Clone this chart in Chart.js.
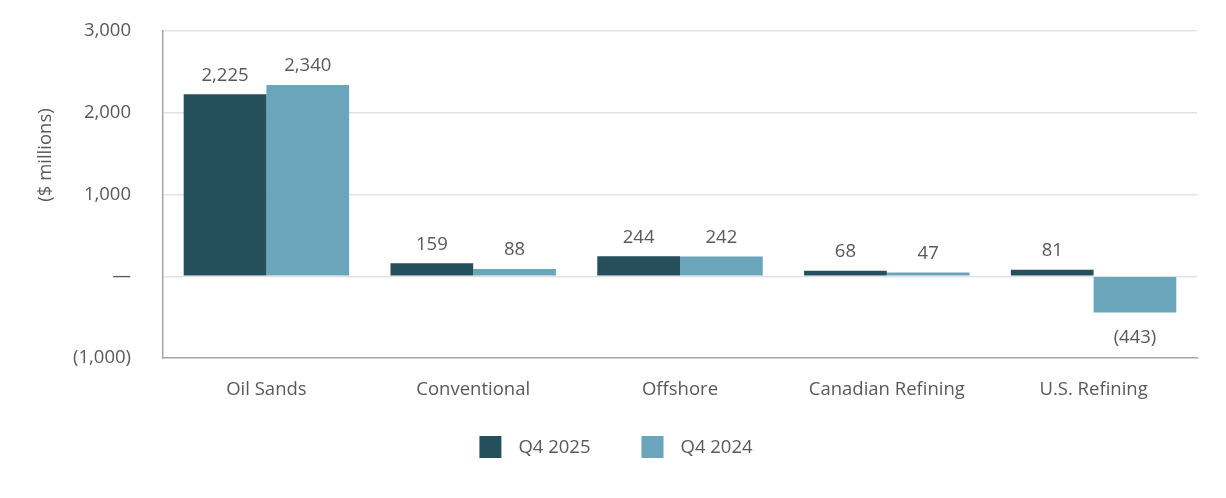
<!DOCTYPE html>
<html>
<head>
<meta charset="utf-8">
<script src="https://cdn.jsdelivr.net/npm/chart.js@4"></script>
<style>
  html, body { margin: 0; padding: 0; background: #fff; }
  #wrap { width: 1226px; height: 498px; }
</style>
</head>
<body>
<div id="wrap"><canvas id="segchart"></canvas></div>
<script>
const categories = ['Oil Sands', 'Conventional', 'Offshore', 'Canadian Refining', 'U.S. Refining'];
const q42025 = [2225, 159, 244, 68, 81];
const q42024 = [2340, 88, 242, 47, -443];
const seriesNames = ['Q4 2025', 'Q4 2024'];
const seriesColors = ['#264f5c', '#6ba5bb'];
const yTicks = [-1000, 0, 1000, 2000, 3000];

const textColor = '#595959';
const fontFamily = "'Open Sans', 'Noto Sans', sans-serif";
const fontSize = 18.5;

function fmt(v) {
    if (v === 0) return '\u2014';
    const s = Math.abs(v).toLocaleString('en-US');
    return v < 0 ? '(' + s + ')' : s;
}

// value labels over / under the bars
const valueLabels = {
    id: 'valueLabels',
    afterDatasetsDraw(chart) {
        const ctx = chart.ctx;
        ctx.save();
        ctx.fillStyle = textColor;
        ctx.font = fontSize + 'px ' + fontFamily;
        ctx.textAlign = 'center';
        ctx.textBaseline = 'middle';
        chart.data.datasets.forEach((ds, i) => {
            chart.getDatasetMeta(i).data.forEach((bar, j) => {
                const v = ds.data[j];
                if (v >= 0) {
                    ctx.fillText(fmt(v), bar.x, bar.y - 19);
                } else {
                    ctx.fillText(fmt(v), bar.x, bar.y + 25);
                }
            });
        });
        ctx.restore();
    }
};

// y axis title (sits above the middle of the plot) + legend under the chart
const extras = {
    id: 'extras',
    afterDraw(chart) {
        const ctx = chart.ctx;
        ctx.save();
        ctx.fillStyle = textColor;
        ctx.font = fontSize + 'px ' + fontFamily;
        ctx.textBaseline = 'middle';

        ctx.save();
        ctx.translate(46, 155);
        ctx.rotate(-Math.PI / 2);
        ctx.textAlign = 'center';
        ctx.fillText('($ millions)', 0, 0);
        ctx.restore();

        // legend
        const box = 22, gap = 17, spacing = 51;
        const widths = seriesNames.map(n => ctx.measureText(n).width);
        let total = 0;
        widths.forEach((w, i) => { total += box + gap + w + (i > 0 ? spacing : 0); });
        let x = (chart.width - total) / 2 + 3;
        const cy = 447;
        ctx.textAlign = 'left';
        seriesNames.forEach((n, i) => {
            ctx.fillStyle = seriesColors[i];
            ctx.fillRect(x, cy - box / 2, box, box);
            ctx.fillStyle = textColor;
            ctx.fillText(n, x + box + gap, cy + 1);
            x += box + gap + widths[i] + spacing;
        });
        ctx.restore();
    }
};

const ctx = document.getElementById('segchart').getContext('2d');
const segchart = new Chart(ctx, {
    type: 'bar',
    data: {
        labels: categories,
        datasets: seriesNames.map((name, i) => ({
            label: name,
            data: i === 0 ? q42025 : q42024,
            backgroundColor: seriesColors[i]
        }))
    },
    options: {
        responsive: true,
        maintainAspectRatio: false,
        animation: false,
        layout: {
            autoPadding: false,
            padding: { top: 31, right: 29, bottom: 82, left: 0 }
        },
        datasets: {
            bar: { categoryPercentage: 0.8, barPercentage: 1.0 }
        },
        plugins: {
            legend: { display: false },
            tooltip: { enabled: false }
        },
        scales: {
            x: {
                grid: { display: false, drawTicks: false },
                border: { color: '#a6a6a6', width: 1.5 },
                ticks: {
                    color: textColor,
                    font: { family: fontFamily, size: fontSize },
                    padding: 21
                },
                afterFit: function(scale) { scale.height = 58; }
            },
            y: {
                min: -1000,
                max: 3000,
                afterBuildTicks: function(scale) {
                    scale.ticks = yTicks.map(v => ({ value: v }));
                },
                grid: {
                    color: function(c) { return c.tick && c.tick.value === -1000 ? 'rgba(0,0,0,0)' : '#e3e3e3'; },
                    lineWidth: 1.5,
                    drawTicks: false
                },
                border: { color: '#a6a6a6', width: 1.5 },
                ticks: {
                    color: textColor,
                    font: { family: fontFamily, size: fontSize },
                    padding: 32,
                    callback: function(value) { return fmt(value); }
                },
                afterFit: function(scale) {
                    scale.width = 163;
                    // tick padding would otherwise push the plot down
                    scale.paddingTop = 0;
                    scale.paddingBottom = 0;
                }
            }
        }
    },
    plugins: [valueLabels, extras]
});
</script>
</body>
</html>
